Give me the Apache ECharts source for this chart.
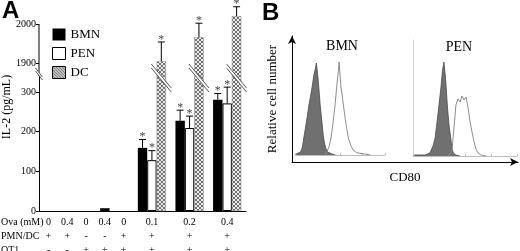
<!DOCTYPE html>
<html>
<head>
<meta charset="utf-8">
<script src="https://cdn.jsdelivr.net/npm/echarts@6/dist/echarts.min.js"></script>
<style>
  html, body { margin: 0; padding: 0; background: #fff; }
  #chart { width: 520px; height: 251px; }
</style>
</head>
<body>
<div id="chart"></div>
<script>
// ---- panel A: IL-2 bars (broken y axis) ----
const groupPos = [6, 8, 10]            // Ova 0.1 / 0.2 / 0.4 with PMN + OT1
const bmnMean = [159, 227, 280]
const bmnTop = [180, 254, 296]
const penMean = [128, 209, 271]
const penTop = [152, 239, 312]
const dcMean = [1905, 1966, 2020]
const dcTop = [1954, 2002, 2044]
const ctrlPos = [3.5]
const ctrlMean = [7]

const labelPos = [0.5, 1.5, 2.5, 3.5, 4.5, 6, 8, 10]
const ovaRow = ['0', '0.4', '0', '0.4', '0', '0.1', '0.2', '0.4']
const pmnRow = ['+', '+', '-', '-', '+', '+', '+', '+']
const ot1Row = ['-', '-', '+', '+', '+', '+', '+', '+']
const lowerTicks = [0, 100, 200, 300]
const upperTicks = [1900, 2000]

// ---- panel B: CD80 histograms (x in log decades, y relative count) ----
const bmnIso = [[0.05, 1], [0.15, 2], [0.25, 3], [0.33, 8], [0.39, 17], [0.45, 25], [0.52, 35], [0.62, 50], [0.7, 60], [0.76, 68], [0.84, 80], [0.9, 86], [0.95, 92], [1.0, 82], [1.05, 70], [1.12, 50], [1.2, 32], [1.27, 17], [1.33, 10], [1.38, 6], [1.45, 3], [1.52, 2], [1.65, 1], [1.8, 0]]
const bmnCd80 = [[1.35, 0], [1.42, 2], [1.51, 8], [1.6, 17], [1.69, 32], [1.78, 50], [1.87, 72], [1.93, 85], [1.96, 93], [2.0, 80], [2.04, 68], [2.08, 63], [2.15, 50], [2.24, 35], [2.37, 17], [2.49, 9], [2.58, 5], [2.7, 3], [2.8, 2], [3.1, 1], [3.35, 0]]
const penIso = [[0.05, 1], [0.3, 1], [0.46, 1], [0.65, 3], [0.77, 10], [0.85, 18], [0.92, 33], [1.0, 51], [1.08, 70], [1.13, 85], [1.19, 94], [1.25, 78], [1.32, 51], [1.38, 32], [1.45, 18], [1.5, 8], [1.55, 3], [1.65, 1], [1.8, 0]]
const penCd80 = [[1.35, 0], [1.42, 1], [1.5, 5], [1.54, 18], [1.6, 35], [1.65, 51], [1.73, 57], [1.81, 54], [1.88, 60], [1.96, 56], [2.04, 59], [2.12, 48], [2.19, 35], [2.27, 24], [2.35, 14], [2.42, 7], [2.5, 3], [2.62, 1], [2.81, 0]]

const LOWER_MAX = 340
const UPPER_MIN = 1867
const UPPER_MAX = 2051
const BAR_W = 9.4
const SERIF = '"Liberation Serif", "Times New Roman", serif'

function makePattern(size, ink, paper, cross) {
  const c = document.createElement('canvas')
  c.width = c.height = size
  const g = c.getContext('2d')
  g.fillStyle = paper
  g.fillRect(0, 0, size, size)
  g.fillStyle = ink
  for (let i = 0; i < size; i++) {
    g.fillRect(i, i, 1, 1)
    if (cross) g.fillRect(size - 1 - i, i, 1, 1)
  }
  return c
}
const dcFill = { image: makePattern(4, '#707070', '#ececec', true), repeat: 'repeat' }
const dcLegend = { image: makePattern(3, '#000', '#fff', false), repeat: 'repeat' }

const pairs = (xs, vs) => vs.map((v, i) => [xs[i], v])
const errRows = (mean, top, col) => mean.map((m, i) => [groupPos[i], m, top[i], col])

function errorItem(params, api) {
  const base = api.coord([api.value(0), api.value(1)])
  const up = api.coord([api.value(0), api.value(2)])
  const cx = base[0] + api.value(3) * BAR_W
  const ink = { stroke: '#000', lineWidth: 1 }
  return {
    type: 'group',
    children: [
      { type: 'line', shape: { x1: cx, y1: base[1], x2: cx, y2: up[1] }, style: ink },
      { type: 'line', shape: { x1: cx - 3.5, y1: up[1], x2: cx + 3.5, y2: up[1] }, style: ink },
      { type: 'text', x: cx, y: up[1] - 2.5, style: { text: '*', font: '12px ' + SERIF, fill: '#444', align: 'center', verticalAlign: 'middle' } }
    ]
  }
}

function breakMark(cx, cy, dx, dy, g) {
  const line = { stroke: '#555', lineWidth: 1 }
  return {
    type: 'group',
    children: [
      { type: 'polygon', shape: { points: [[cx - dx, cy - dy - g], [cx + dx, cy + dy - g], [cx + dx, cy + dy + g], [cx - dx, cy - dy + g]] }, style: { fill: '#fff' } },
      { type: 'line', shape: { x1: cx - dx, y1: cy - dy - g, x2: cx + dx, y2: cy + dy - g }, style: line },
      { type: 'line', shape: { x1: cx - dx, y1: cy - dy + g, x2: cx + dx, y2: cy + dy + g }, style: line }
    ]
  }
}

const chart = echarts.init(document.getElementById('chart'))

const hideAxis = { axisLine: { show: false }, axisTick: { show: false }, axisLabel: { show: false }, splitLine: { show: false } }
const tickFont = { fontFamily: SERIF, fontSize: 10, color: '#000', formatter: v => String(v) }

chart.setOption({
  animation: false,
  backgroundColor: '#fff',
  grid: [
    { left: 39, width: 207, top: 76, height: 135, outerBoundsMode: 'none' },   // A lower
    { left: 39, width: 207, top: 4, height: 72, outerBoundsMode: 'none' },     // A upper
    { left: 295, width: 90, top: 40, height: 115, outerBoundsMode: 'none' },   // B BMN
    { left: 413, width: 104, top: 40, height: 116, outerBoundsMode: 'none' },  // B PEN
    { left: 292, width: 226, top: 36, height: 126, outerBoundsMode: 'none' }   // B frame arrows
  ],
  legend: {
    orient: 'vertical',
    left: 47,
    top: 23,
    itemWidth: 13,
    itemHeight: 12,
    itemGap: 6,
    selectedMode: false,
    textStyle: { fontFamily: SERIF, fontSize: 13, color: '#000' },
    data: [
      { name: 'BMN', icon: 'rect', itemStyle: { color: '#000' } },
      { name: 'PEN', icon: 'rect', itemStyle: { color: '#fff', borderColor: '#000', borderWidth: 1 } },
      { name: 'DC', icon: 'rect', itemStyle: { color: dcLegend, borderColor: '#000', borderWidth: 1 } }
    ]
  },
  xAxis: [
    { // 0: bars + condition table
      gridIndex: 0, type: 'value', position: 'bottom', min: 0, max: 11,
      axisLine: { show: false, onZero: false }, axisTick: { show: false }, splitLine: { show: false },
      axisLabel: {
        customValues: labelPos,
        margin: 4,
        fontFamily: SERIF, fontSize: 10, color: '#000', lineHeight: 14,
        formatter: v => {
          const i = labelPos.findIndex(p => Math.abs(p - v) < 1e-6)
          return i < 0 ? '' : ovaRow[i] + '\n' + pmnRow[i] + '\n' + ot1Row[i]
        }
      }
    },
    { // 1: axis line with condition separators
      gridIndex: 0, type: 'category', position: 'bottom', data: new Array(11).fill(''),
      axisLine: { onZero: false, lineStyle: { color: '#000', width: 1 } },
      axisTick: { length: 3, lineStyle: { color: '#000' }, interval: i => [6, 8, 10].indexOf(i) < 0 },
      axisLabel: { show: false }
    },
    { gridIndex: 0, type: 'value', position: 'bottom', min: 0, max: 11, ...hideAxis },   // 2: single control bar
    { gridIndex: 1, type: 'value', position: 'bottom', min: 0, max: 11, ...hideAxis },   // 3: upper segment
    { // 4: BMN histogram
      gridIndex: 2, type: 'value', position: 'bottom', min: 0, max: 4, interval: 1,
      axisLine: { lineStyle: { color: '#bdbdbd' } },
      axisTick: { length: 2, inside: true, lineStyle: { color: '#bdbdbd' } },
      axisLabel: { show: false }, splitLine: { show: false }
    },
    { // 5: PEN histogram
      gridIndex: 3, type: 'value', position: 'bottom', min: 0, max: 4, interval: 1,
      axisLine: { lineStyle: { color: '#bdbdbd' } },
      axisTick: { length: 2, inside: true, lineStyle: { color: '#bdbdbd' } },
      axisLabel: { show: false }, splitLine: { show: false }
    },
    { // 6: CD80 arrow
      gridIndex: 4, type: 'value', position: 'bottom', min: 0, max: 1,
      axisLine: { symbol: ['none', 'arrow'], symbolSize: [6, 8], lineStyle: { color: '#000', width: 1 } },
      axisTick: { show: false }, axisLabel: { show: false }, splitLine: { show: false },
      name: 'CD80', nameLocation: 'middle', nameGap: 9,
      nameTextStyle: { fontFamily: SERIF, fontSize: 13, color: '#000' }
    }
  ],
  yAxis: [
    {
      gridIndex: 0, type: 'value', position: 'left', min: 0, max: LOWER_MAX,
      axisLine: { show: true, lineStyle: { color: '#000', width: 1 } },
      axisTick: { show: true, length: 3, customValues: lowerTicks, lineStyle: { color: '#000' } },
      axisLabel: { customValues: lowerTicks, margin: 3, ...tickFont },
      splitLine: { show: false }
    },
    {
      gridIndex: 1, type: 'value', position: 'left', min: UPPER_MIN, max: UPPER_MAX,
      axisLine: { show: false },
      axisTick: { show: true, length: 3, customValues: upperTicks, lineStyle: { color: '#000' } },
      axisLabel: { customValues: upperTicks, margin: 3, ...tickFont },
      splitLine: { show: false }
    },
    { gridIndex: 2, type: 'value', position: 'left', min: 0, max: 115, ...hideAxis },
    {
      gridIndex: 3, type: 'value', position: 'left', min: 0, max: 116,
      axisLine: { show: true, lineStyle: { color: '#d0d0d0' } },
      axisTick: { show: false }, axisLabel: { show: false }, splitLine: { show: false }
    },
    {
      gridIndex: 4, type: 'value', position: 'left', min: 0, max: 1,
      axisLine: { show: true, symbol: ['none', 'arrow'], symbolSize: [6, 8], lineStyle: { color: '#000', width: 1 } },
      axisTick: { show: false }, axisLabel: { show: false }, splitLine: { show: false },
      name: 'Relative cell number', nameLocation: 'middle', nameGap: 13, nameRotate: 90,
      nameTextStyle: { fontFamily: SERIF, fontSize: 13, color: '#000' }
    }
  ],
  series: [
    // lower segment of the broken axis
    { name: 'BMN', type: 'bar', xAxisIndex: 0, yAxisIndex: 0, barWidth: BAR_W, barGap: '0%', itemStyle: { color: '#000' }, data: pairs(groupPos, bmnMean) },
    { name: 'PEN', type: 'bar', xAxisIndex: 0, yAxisIndex: 0, barWidth: BAR_W, barGap: '0%', itemStyle: { color: '#fff', borderColor: '#000', borderWidth: 1 }, data: pairs(groupPos, penMean) },
    { name: 'DC', type: 'bar', xAxisIndex: 0, yAxisIndex: 0, barWidth: BAR_W, barGap: '0%', itemStyle: { color: dcFill, borderColor: '#8a8a8a', borderWidth: 0.5 }, data: pairs(groupPos, dcMean) },
    // single control bar (T cells + Ova, no PMN/DC), centred in its own slot
    {
      name: 'control', type: 'custom', xAxisIndex: 2, yAxisIndex: 0,
      encode: { x: 0, y: 1 },
      renderItem: (params, api) => {
        const base = api.coord([api.value(0), 0])
        const top = api.coord([api.value(0), api.value(1)])
        return { type: 'rect', shape: { x: base[0] - BAR_W / 2, y: top[1], width: BAR_W, height: base[1] - top[1] }, style: { fill: '#000' } }
      },
      data: pairs(ctrlPos, ctrlMean)
    },
    // upper segment of the broken axis
    { name: 'BMN', type: 'bar', xAxisIndex: 3, yAxisIndex: 1, barWidth: BAR_W, barGap: '0%', itemStyle: { color: '#000' }, data: pairs(groupPos, bmnMean) },
    { name: 'PEN', type: 'bar', xAxisIndex: 3, yAxisIndex: 1, barWidth: BAR_W, barGap: '0%', itemStyle: { color: '#fff', borderColor: '#000', borderWidth: 1 }, data: pairs(groupPos, penMean) },
    { name: 'DC', type: 'bar', xAxisIndex: 3, yAxisIndex: 1, barWidth: BAR_W, barGap: '0%', itemStyle: { color: dcFill, borderColor: '#8a8a8a', borderWidth: 0.5 }, data: pairs(groupPos, dcMean) },
    // upper piece of the y axis line (stops at the 2000 tick)
    {
      name: 'axis-upper', type: 'custom', xAxisIndex: 3, yAxisIndex: 1, clip: false,
      encode: { x: 0, y: 1 },
      renderItem: (params, api) => {
        const a = api.coord([0, UPPER_MIN])
        const b = api.coord([0, upperTicks[1]])
        return { type: 'line', shape: { x1: a[0], y1: a[1], x2: b[0], y2: b[1] }, style: { stroke: '#000', lineWidth: 1 } }
      },
      data: [[0, UPPER_MIN]]
    },
    // error bars + significance stars
    {
      name: 'err-low', type: 'custom', xAxisIndex: 0, yAxisIndex: 0, clip: false, z: 4,
      renderItem: errorItem, encode: { x: 0, y: [1, 2] },
      data: errRows(bmnMean, bmnTop, -1).concat(errRows(penMean, penTop, 0))
    },
    {
      name: 'err-up', type: 'custom', xAxisIndex: 3, yAxisIndex: 1, clip: false, z: 4,
      renderItem: errorItem, encode: { x: 0, y: [1, 2] },
      data: errRows(dcMean, dcTop, 1)
    },
    // break marks on the DC bars and on the axis
    {
      name: 'bar-break', type: 'custom', xAxisIndex: 0, yAxisIndex: 0, clip: false, z: 6,
      encode: { x: 0, y: 1 },
      renderItem: (params, api) => {
        const p = api.coord([api.value(0), LOWER_MAX])
        return breakMark(p[0] + BAR_W, p[1] + 2, 10, 12, 2)
      },
      data: groupPos.map(x => [x, LOWER_MAX])
    },
    {
      name: 'axis-break', type: 'custom', xAxisIndex: 0, yAxisIndex: 0, clip: false, z: 6,
      encode: { x: 0, y: 1 },
      renderItem: (params, api) => {
        const p = api.coord([0, LOWER_MAX])
        return breakMark(p[0], p[1] - 2, 3.5, 4.5, 1.5)
      },
      data: [[0, LOWER_MAX]]
    },
    // panel B histograms
    { name: 'BMN iso', type: 'line', xAxisIndex: 4, yAxisIndex: 2, symbol: 'none', data: bmnIso, lineStyle: { color: '#4a4a4a', width: 0.8 }, areaStyle: { color: '#707070', opacity: 1 } },
    { name: 'BMN CD80', type: 'line', xAxisIndex: 4, yAxisIndex: 2, symbol: 'none', data: bmnCd80, lineStyle: { color: '#8c8c8c', width: 1 } },
    { name: 'PEN iso', type: 'line', xAxisIndex: 5, yAxisIndex: 3, symbol: 'none', data: penIso, lineStyle: { color: '#4a4a4a', width: 0.8 }, areaStyle: { color: '#707070', opacity: 1 } },
    { name: 'PEN CD80', type: 'line', xAxisIndex: 5, yAxisIndex: 3, symbol: 'none', data: penCd80, lineStyle: { color: '#8c8c8c', width: 1 } }
  ],
  graphic: [
    { type: 'text', x: 2, y: 11.5, style: { text: 'A', font: 'bold 24px "Liberation Sans", Arial, sans-serif', fill: '#000', verticalAlign: 'middle' } },
    { type: 'text', x: 262, y: 13.5, style: { text: 'B', font: 'bold 24px "Liberation Sans", Arial, sans-serif', fill: '#000', verticalAlign: 'middle' } },
    { type: 'text', x: 7, y: 107, rotation: Math.PI / 2, style: { text: 'IL-2 (pg/mL)', font: '12px ' + SERIF, fill: '#000', align: 'center', verticalAlign: 'middle' } },
    { type: 'text', x: 1, y: 215, style: { text: 'Ova (mM)\nPMN/DC\nOT1', font: '10px ' + SERIF, lineHeight: 14, fill: '#000', verticalAlign: 'top' } },
    { type: 'text', x: 342, y: 46, style: { text: 'BMN', font: '14px ' + SERIF, fill: '#000', align: 'center', verticalAlign: 'middle' } },
    { type: 'text', x: 459, y: 47, style: { text: 'PEN', font: '14px ' + SERIF, fill: '#000', align: 'center', verticalAlign: 'middle' } }
  ]
})
</script>
</body>
</html>
